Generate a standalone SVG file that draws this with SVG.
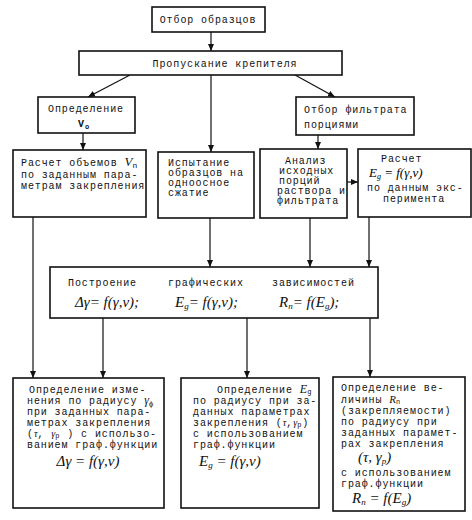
<svg xmlns="http://www.w3.org/2000/svg" width="472" height="520" viewBox="0 0 472 520">
<defs>
<marker id="ah" markerWidth="8" markerHeight="8" refX="7" refY="4" orient="auto" markerUnits="userSpaceOnUse">
<path d="M0,1 L7,4 L0,7 Z" fill="#111"/>
</marker>
<style>
.box{fill:#fff;stroke:#111;stroke-width:1.6}
.t{font-family:"Liberation Mono",monospace;font-size:10px;letter-spacing:0.9px;fill:#111}
.f{font-family:"Liberation Serif",serif;font-style:italic;font-size:15px;fill:#111}
.fi{font-family:"Liberation Serif",serif;font-style:italic;letter-spacing:0}
.c{stroke:#111;stroke-width:1.2;fill:none;marker-end:url(#ah)}
</style>
</defs>
<rect width="472" height="520" fill="#fff"/>
<g id="connectors">
<line class="c" x1="211" y1="32" x2="211" y2="51"/>
<line class="c" x1="130" y1="75" x2="88" y2="97"/>
<line class="c" x1="295" y1="75" x2="335" y2="97"/>
<line class="c" x1="211" y1="75" x2="211" y2="152"/>
<line class="c" x1="83" y1="133" x2="83" y2="150"/>
<line class="c" x1="318" y1="135" x2="318" y2="149"/>
<line class="c" x1="347" y1="182" x2="358" y2="182"/>
<line class="c" x1="210" y1="218" x2="210" y2="267"/>
<line class="c" x1="310" y1="218" x2="310" y2="267"/>
<line class="c" x1="369" y1="217" x2="369" y2="267"/>
<line class="c" x1="33" y1="217" x2="33" y2="378"/>
<line class="c" x1="103" y1="318" x2="103" y2="378"/>
<line class="c" x1="247" y1="318" x2="247" y2="378"/>
<line class="c" x1="370" y1="318" x2="370" y2="377"/>
</g>
<g id="n1"><rect class="box" x="152" y="7" width="113" height="25"/>
<text class="t" x="208" y="23" text-anchor="middle">Отбор образцов</text></g>
<g id="n2"><rect class="box" x="79" y="51" width="263" height="24"/>
<text class="t" x="225" y="67" text-anchor="middle">Пропускание крепителя</text></g>
<g id="n3"><rect class="box" x="38" y="97" width="97" height="36"/>
<text class="t" x="86" y="112" text-anchor="middle">Определение</text>
<text class="t" x="78" y="127" font-weight="bold">V<tspan font-size="7" dy="2">o</tspan></text></g>
<g id="n4"><rect class="box" x="296" y="97" width="118" height="38"/>
<text class="t" x="304" y="113">Отбор фильтрата</text>
<text class="t" x="304" y="128">порциями</text></g>
<g id="n5"><rect class="box" x="13" y="150" width="133" height="67"/>
<text class="t" x="21" y="166">Расчет объемов <tspan class="fi" font-size="13">V</tspan><tspan font-size="8" dy="2">n</tspan></text>
<text class="t" x="21" y="178">по заданным пара-</text>
<text class="t" x="21" y="189">метрам закрепления</text></g>
<g id="n6"><rect class="box" x="158" y="152" width="96" height="66"/>
<text class="t" x="168" y="166">Испытание</text>
<text class="t" x="168" y="176">образцов на</text>
<text class="t" x="168" y="186">одноосное</text>
<text class="t" x="168" y="196">сжатие</text></g>
<g id="n7"><rect class="box" x="260" y="149" width="87" height="69"/>
<text class="t" x="285" y="164">Анализ</text>
<text class="t" x="279" y="174">исходных</text>
<text class="t" x="279" y="184">порций</text>
<text class="t" x="277" y="194">раствора и</text>
<text class="t" x="277" y="204">фильтрата</text></g>
<g id="n8"><rect class="box" x="358" y="149" width="113" height="68"/>
<text class="t" x="381" y="162">Расчет</text>
<text class="fi" x="369" y="177" font-size="13">E<tspan font-size="8" dy="2">g</tspan><tspan dy="-2"> = f(γ,v)</tspan></text>
<text class="t" x="367" y="191">по данным экс-</text>
<text class="t" x="383" y="202">перимента</text></g>
<g id="n9"><rect class="box" x="50" y="267" width="328" height="51"/>
<text class="t" x="68" y="286">Построение</text>
<text class="t" x="168" y="286">графических</text>
<text class="t" x="272" y="286">зависимостей</text>
<text class="f" x="75" y="307">Δγ= f(γ,v);</text>
<text class="f" x="175" y="307">E<tspan font-size="9" dy="2">g</tspan><tspan dy="-2">= f(γ,v);</tspan></text>
<text class="f" x="279" y="307">R<tspan font-size="9" dy="2">n</tspan><tspan dy="-2">= f(E</tspan><tspan font-size="9" dy="2">g</tspan><tspan dy="-2">);</tspan></text></g>
<g id="n10"><rect class="box" x="13" y="378" width="151" height="130"/>
<text class="t" x="29" y="393">Определение изме-</text>
<text class="t" x="27" y="404">нения по радиусу <tspan class="fi" font-size="12">γ</tspan><tspan font-size="7" dy="2">ф</tspan></text>
<text class="t" x="27" y="415">при заданных пара-</text>
<text class="t" x="27" y="426">метрах закрепления</text>
<text class="t" x="27" y="437">(<tspan class="fi" font-size="10">τ</tspan>, <tspan class="fi" font-size="10">γ</tspan><tspan font-size="7" dy="1">р</tspan><tspan dy="-1"> ) с использо-</tspan></text>
<text class="t" x="27" y="448">ванием граф.функции</text>
<text class="f" x="88" y="466" text-anchor="middle">Δγ = f(γ,v)</text></g>
<g id="n11"><rect class="box" x="181" y="378" width="138" height="130"/>
<text class="t" x="217" y="393">Определение <tspan class="fi" font-size="12">E</tspan><tspan font-size="7" dy="1">g</tspan></text>
<text class="t" x="193" y="404">по радиусу при за-</text>
<text class="t" x="193" y="415">данных параметрах</text>
<text class="t" x="193" y="426">закрепления (<tspan class="fi" font-size="10">τ</tspan>,<tspan class="fi" font-size="10">γ</tspan><tspan font-size="7" dy="1">р</tspan><tspan dy="-1">)</tspan></text>
<text class="t" x="193" y="437">с использованием</text>
<text class="t" x="193" y="448">граф.функции</text>
<text class="f" x="199" y="466">E<tspan font-size="9" dy="2">g</tspan><tspan dy="-2"> = f(γ,v)</tspan></text></g>
<g id="n12"><rect class="box" x="333" y="377" width="132" height="134"/>
<text class="t" x="341" y="391">Определение ве-</text>
<text class="t" x="341" y="403">личины <tspan class="fi" font-size="11">R</tspan><tspan font-size="7" dy="1">n</tspan></text>
<text class="t" x="341" y="414">(закрепляемости)</text>
<text class="t" x="341" y="425">по радиусу при</text>
<text class="t" x="341" y="436">заданных парамет-</text>
<text class="t" x="341" y="447">рах закрепления</text>
<text class="f" x="358" y="462">(τ, γ<tspan font-size="9" dy="2">р</tspan><tspan dy="-2">)</tspan></text>
<text class="t" x="341" y="476">с использованием</text>
<text class="t" x="341" y="487">граф.функции</text>
<text class="f" x="352" y="503">R<tspan font-size="9" dy="2">n</tspan><tspan dy="-2"> = f(E</tspan><tspan font-size="9" dy="2">g</tspan><tspan dy="-2">)</tspan></text></g>
</svg>
